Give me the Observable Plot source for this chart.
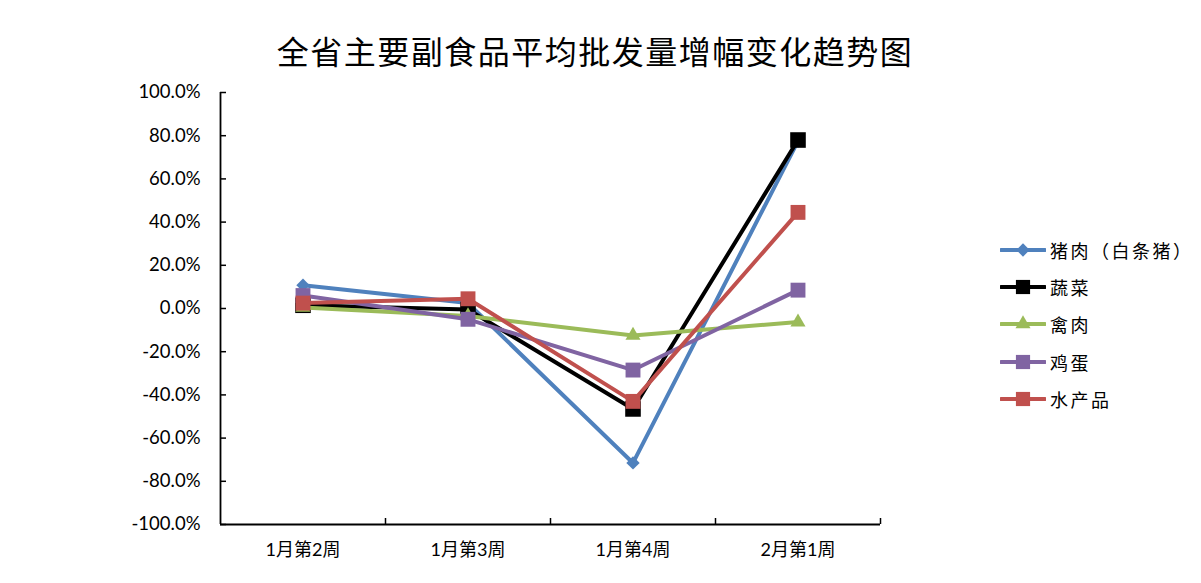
<!DOCTYPE html>
<html>
<head>
<meta charset="utf-8">
<script src="https://cdn.jsdelivr.net/npm/d3@7"></script>
<script src="https://cdn.jsdelivr.net/npm/@observablehq/plot@0.6"></script>
<style>
  html, body { margin: 0; padding: 0; background: #fff; }
  #wrap { position: relative; width: 1201px; height: 583px; overflow: hidden; }
  #title { position: absolute; left: 0; top: 33px; width: 1190px; text-align: center;
    font-family: "Noto Sans CJK SC", sans-serif; font-size: 32px; line-height: 34px; letter-spacing: 1.5px; color: #000; }
  #chart { position: absolute; left: 0; top: 0; }
  #legend { position: absolute; left: 1000px; top: 231px; font-family: "Noto Sans CJK SC", sans-serif;
    font-size: 18px; letter-spacing: 2.5px; color: #000; }
  .row { display: flex; align-items: center; height: 37.3px; }
  .row svg { margin-right: 4px; }
</style>
</head>
<body>
<div id="wrap">
  <div id="chart"></div>
  <div id="title"></div>
  <div id="legend"></div>
</div>
<script>
const titleText = "全省主要副食品平均批发量增幅变化趋势图";
const categories = ["1月第2周", "1月第3周", "1月第4周", "2月第1周"];
const seriesNames = ["猪肉（白条猪）", "蔬菜", "禽肉", "鸡蛋", "水产品"];
const pork = [10.8, 2.5, -71.5, 77.5];
const vegetables = [1.5, -0.5, -46.5, 78];
const poultry = [0.5, -3.5, -12.5, -6.3];
const eggs = [6, -5, -28.5, 8.5];
const aquatic = [2.5, 4.5, -43, 44.5];
const yTicks = [-100, -80, -60, -40, -20, 0, 20, 40, 60, 80, 100];
const yTickLabels = ["-100.0%", "-80.0%", "-60.0%", "-40.0%", "-20.0%", "0.0%", "20.0%", "40.0%", "60.0%", "80.0%", "100.0%"];

const seriesValues = [pork, vegetables, poultry, eggs, aquatic];
const colors = ["#4F81BD", "#000000", "#9BBB59", "#8064A2", "#C0504D"];
const symbols = ["diamond2", "square", "triangle", "square", "square"];
const radii = [6, 8.8, 5.6, 8.4, 8.4];

document.getElementById("title").textContent = titleText;

const rows = [];
seriesNames.forEach((s, si) => {
  categories.forEach((c, ci) => rows.push({series: s, cat: c, pos: ci + 0.5, value: seriesValues[si][ci]}));
});

const marks = [];
seriesNames.forEach((s, si) => {
  const data = rows.filter(d => d.series === s);
  marks.push(Plot.line(data, {x: "pos", y: "value", stroke: colors[si], strokeWidth: 4, strokeLinejoin: "round"}));
  marks.push(Plot.dot(data, {x: "pos", y: "value", symbol: () => symbols[si], fill: colors[si], stroke: "none", r: radii[si]}));
});

const catPositions = categories.map((c, i) => i + 0.5);
const boundaries = categories.map((c, i) => i + 1);

const chart = Plot.plot({
  width: 1201,
  height: 583,
  marginLeft: 220,
  marginRight: 321,
  marginTop: 92,
  marginBottom: 59,
  style: {fontFamily: "Lato, 'Noto Sans CJK SC', sans-serif", fontSize: "18px", color: "#000", background: "transparent"},
  x: {type: "linear", domain: [0, categories.length]},
  y: {type: "linear", domain: [yTicks[0], yTicks[yTicks.length - 1]]},
  symbol: {type: "identity"},
  marks: [
    Plot.axisY({ticks: yTicks, tickSize: 0, tickPadding: 20, tickFormat: (d, i) => yTickLabels[yTicks.indexOf(d)], label: null, fontSize: 18.5}),
    Plot.axisY({ticks: yTicks, tickSize: -6, tickFormat: () => "", label: null, strokeWidth: 1.5}),
    Plot.axisX({ticks: catPositions, tickSize: 0, tickPadding: 19, tickFormat: d => categories[Math.round(d - 0.5)], label: null, fontSize: 18}),
    Plot.axisX({ticks: boundaries, tickSize: -6, tickFormat: () => "", label: null, strokeWidth: 1.5}),
    Plot.ruleX([0], {stroke: "#000", strokeWidth: 1.8}),
    Plot.ruleY([yTicks[0]], {stroke: "#000", strokeWidth: 1.8}),
    ...marks
  ]
});
document.getElementById("chart").appendChild(chart);

// legend
const legend = document.getElementById("legend");
const symPaths = {
  diamond2: d3.symbol(d3.symbolDiamond2, Math.PI * 6 * 6)(),
  square: d3.symbol(d3.symbolSquare, Math.PI * 8 * 8)(),
  triangle: d3.symbol(d3.symbolTriangle, Math.PI * 5.6 * 5.6)()
};
seriesNames.forEach((s, si) => {
  const row = document.createElement("div");
  row.className = "row";
  row.innerHTML = `<svg width="46" height="18"><line x1="1" x2="45" y1="9" y2="9" stroke="${colors[si]}" stroke-width="4" stroke-linecap="round"/><path transform="translate(23,9)" d="${symPaths[symbols[si]]}" fill="${colors[si]}"/></svg><span>${s}</span>`;
  legend.appendChild(row);
});
</script>
</body>
</html>
